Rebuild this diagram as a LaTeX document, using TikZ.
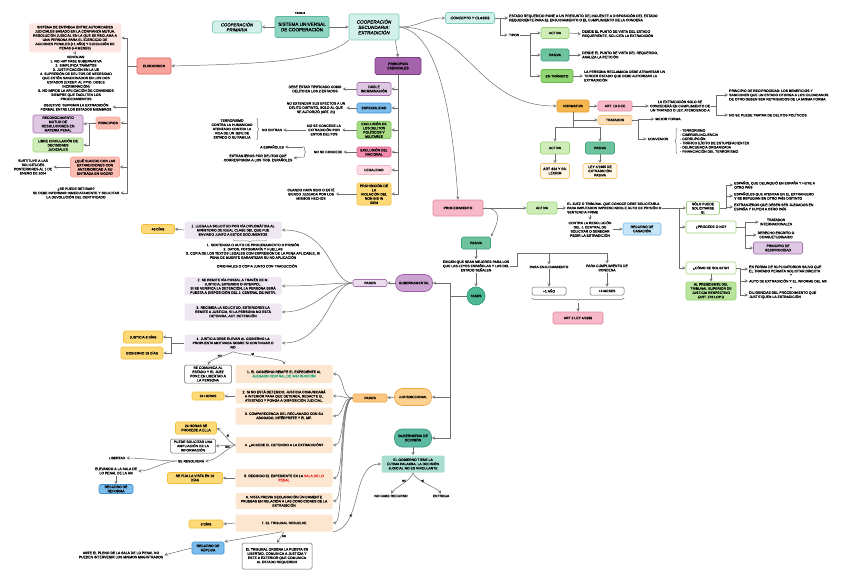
\documentclass[tikz,border=0pt]{standalone}
\usepackage{fontspec}
\setmainfont{Liberation Sans}[FakeBold=0.35]
\usepackage{tikz}
\usetikzlibrary{arrows,calc,decorations.pathreplacing}
\hyphenpenalty=10000
\definecolor{cTealF}{HTML}{D3F0EA}\definecolor{cTealD}{HTML}{7DCFBB}
\definecolor{cSistF}{HTML}{8FD4C2}\definecolor{cSistD}{HTML}{5CB8A0}
\definecolor{cSalF}{HTML}{F7A49C}\definecolor{cSalD}{HTML}{E2605B}
\definecolor{cSalLF}{HTML}{FBBCB2}\definecolor{cSalLD}{HTML}{F6A89C}
\definecolor{cPinkPale}{HTML}{FDE5E2}
\definecolor{cPurF}{HTML}{A563AC}\definecolor{cPurD}{HTML}{7B3E83}
\definecolor{cPurLF}{HTML}{DDC7E2}\definecolor{cPurLD}{HTML}{A870B0}
\definecolor{cBlueF}{HTML}{7DBDEB}\definecolor{cBlueD}{HTML}{4090D2}
\definecolor{cBlueLF}{HTML}{C5E6F8}\definecolor{cBlueLD}{HTML}{75B9E6}
\definecolor{cGreenF}{HTML}{A8DC86}\definecolor{cGreenD}{HTML}{7CC35A}
\definecolor{cGreenLF}{HTML}{CFEDB8}\definecolor{cGreenLD}{HTML}{99D474}
\definecolor{cGreenMF}{HTML}{92D574}\definecolor{cGreenMD}{HTML}{68B94A}
\definecolor{cSeaF}{HTML}{6DC39E}\definecolor{cSeaD}{HTML}{3FA07A}
\definecolor{cPinkF}{HTML}{F38CAC}\definecolor{cPinkD}{HTML}{D95A80}
\definecolor{cPinkMF}{HTML}{F7B8C9}\definecolor{cPinkMD}{HTML}{E6889F}
\definecolor{cPinkLF}{HTML}{FDDCE4}\definecolor{cPinkLD}{HTML}{F6B5C6}
\definecolor{cYelF}{HTML}{FDD978}\definecolor{cYelD}{HTML}{F3BE3B}
\definecolor{cOraF}{HTML}{F5B851}\definecolor{cOraD}{HTML}{E69B2C}
\definecolor{cOraLF}{HTML}{FDE0BA}\definecolor{cOraLD}{HTML}{F6C37B}
\definecolor{cCreamF}{HTML}{FFF6E6}
\definecolor{cPeach}{HTML}{FDE6D0}\definecolor{cLilac}{HTML}{EEE6F0}
\definecolor{cGubF}{HTML}{CBA4D1}\definecolor{cGubD}{HTML}{9C5CA4}
\definecolor{cPasGF}{HTML}{EADCEE}
\definecolor{cJurF}{HTML}{FDD190}\definecolor{cJurD}{HTML}{F2A64A}
\definecolor{cPasJF}{HTML}{FCC780}\definecolor{cPasJD}{HTML}{F0A545}
\definecolor{cGdecF}{HTML}{5DBAA2}\definecolor{cGdecD}{HTML}{3A9881}
\definecolor{cUltF}{HTML}{A8DDD0}
\definecolor{cFasF}{HTML}{4DBA94}\definecolor{cFasD}{HTML}{2F9A74}
\definecolor{cPresF}{HTML}{B8E49D}
\definecolor{cJgreen}{HTML}{1AA37A}\definecolor{cJred}{HTML}{E8302A}
\definecolor{cLine}{HTML}{6E6E6E}
\tikzset{every node/.style={font=\fontsize{3.4}{4.2}\selectfont, align=center, inner sep=1pt}}
\tikzset{bx/.style={rectangle, rounded corners=1.5pt, line width=0.6pt}}
\tikzset{pill/.style={rectangle, rounded corners=8pt, line width=0.7pt, minimum width=37pt, minimum height=17pt}}
\tikzset{sz/.style 2 args={minimum width=#1pt, minimum height=#2pt}}
\tikzset{ln/.style={draw=cLine, line width=0.5pt}}
\tikzset{arr/.style={ln, ->, >=stealth}}
\tikzset{brc/.style={ln, decorate, decoration={brace, amplitude=2pt}}}
\tikzset{lbl/.style={font=\fontsize{2.8}{3}\selectfont, fill=white, inner sep=0.3pt}}
\tikzset{hd/.style={font=\fontsize{4.6}{5.4}\selectfont}}
\tikzset{tealbox/.style={bx, fill=cTealF, draw=cTealD}, sistbox/.style={bx, fill=cSistF, draw=cSistD}}
\tikzset{salmonbox/.style={bx, fill=cSalF, draw=cSalD}, salmonlight/.style={bx, fill=cSalLF, draw=cSalLD}}
\tikzset{purplebox/.style={bx, fill=cPurF, draw=cPurD}, purplelight/.style={bx, fill=cPurLF, draw=cPurLD}}
\tikzset{bluebox/.style={bx, fill=cBlueF, draw=cBlueD}, bluelight/.style={bx, fill=cBlueLF, draw=cBlueLD}}
\tikzset{greenbox/.style={bx, fill=cGreenF, draw=cGreenD}, greenlight/.style={bx, fill=cGreenLF, draw=cGreenLD}}
\tikzset{greenmid/.style={bx, fill=cGreenMF, draw=cGreenMD}, seabox/.style={bx, fill=cSeaF, draw=cSeaD}}
\tikzset{pinkbox/.style={bx, fill=cPinkF, draw=cPinkD}, pinkmid/.style={bx, fill=cPinkMF, draw=cPinkMD}}
\tikzset{pinklight/.style={bx, fill=cPinkLF, draw=cPinkLD}, yellowbox/.style={bx, fill=cYelF, draw=cYelD}}
\tikzset{orangebox/.style={bx, fill=cOraF, draw=cOraD}, orangelight/.style={bx, fill=cOraLF, draw=cOraLD}}
\tikzset{creambox/.style={bx, fill=cCreamF, draw=cOraLD}, whitebox/.style={bx, fill=white, draw=black!60, line width=0.5pt}}
\tikzset{greenline/.style={bx, fill=white, draw=cGreenLD}}
\tikzset{gstep/.style={bx, fill=cLilac, sz={97}{17}}, jstep/.style={bx, fill=cPeach, sz={97}{17}}}

\begin{document}
\begin{tikzpicture}[x=1pt, y=-1pt]
\path[use as bounding box, fill=white] (0,0) rectangle (848,578);

% cabecera
\node (tema) at (300,13)[font=\fontsize{2.8}{3}\selectfont]{TEMA 8};
\node (primaria) at (237,27)[tealbox, sz={49}{12}, font=\fontsize{4.3}{5}\selectfont\itshape]{COOPERACIÓN\\PRIMARIA};
\node (sistema) at (302,27)[sistbox, sz={54}{21}, hd]{SISTEMA UNIVERSAL\\DE COOPERACIÓN};
\node (secundaria) at (374,27)[tealbox, sz={50}{26}, font=\fontsize{4.6}{5.4}\selectfont\itshape]{COOPERACIÓN\\SECUNDARIA:\\EXTRADICIÓN};
\draw[arr] (sistema) -- (primaria);
\draw[arr] (sistema) -- (secundaria);

% euroorden
\node (euro) at (154,66)[salmonbox, sz={34}{16}]{EUROORDEN};
\node (eurodef) at (75,38)[bx, fill=cPinkPale, sz={92}{29}]{SISTEMA DE ENTREGA ENTRE AUTORIDADES\\JUDICIALES BASADO EN LA CONFIANZA MUTUA.\\RESOLUCIÓN JUDICIAL EN LA QUE SE RECLAMA A\\UNA PERSONA PARA EL EJERCICIO DE\\ACCIONES PENALES (+1 AÑO) Y EJECUCIÓN DE\\PENAS (+4 MESES)};
\node (ventajas) at (76,78){VENTAJAS:\\1. NO HAY FASE GUBERNATIVA\\2. SIMPLIFICA TRÁMITES\\3. JUSTIFICACIÓN EN LA UE\\4. SUPRESIÓN DE DELITOS DE NECESIDAD\\QUE ESTÉN SANCIONADOS EN LOS DOS\\ESTADOS (EXCEP. AL PPIO. DOBLE\\INCRIMINACIÓN)\\5. NO IMPIDE LA APLICACIÓN DE CONVENIOS\\SIEMPRE QUE FACILITEN LOS\\PROCEDIMIENTOS};
\node (objetivo) at (76,107){OBJETIVO: SUPRIMIR LA EXTRADICIÓN\\FORMAL ENTRE LOS ESTADOS MIEMBROS};
\node (principios) at (108,123)[salmonlight, sz={24}{12}]{PRINCIPIOS};
\node (reconoc) at (58,124)[purplelight, sz={50}{18}]{RECONOCIMIENTO\\MUTUO DE\\RESOLUCIONES EN\\MATERIA PENAL};
\node (libre) at (58,145)[greenlight, sz={50}{14}]{LIBRE CIRCULACIÓN DE\\DECISIONES\\JUDICIALES};
\node (sucede) at (95,167)[salmonlight, sz={49}{20}]{¿QUÉ SUCEDE CON LAS\\EXTRADICIONES CON\\ANTERIORIDAD A SU\\ENTRADA EN VIGOR?};
\node (sustituye) at (33,167){SUSTITUYE A LAS\\SOLICITUDES\\POSTERIORES AL 1 DE\\ENERO DE 2004};
\node (retirar) at (76,193){¿SE PUEDE RETIRAR?\\SE DEBE INFORMAR INMEDIATAMENTE Y SOLICITAR\\LA DEVOLUCIÓN DEL CERTIFICADO};
\draw[arr] (secundaria.south west) .. controls +(-25,22) and +(80,-2) .. (euro.east);
\draw[arr] (euro.west) -- ++(-9,0) |- (eurodef.east);
\draw[arr] (euro.west) -- ++(-9,0) |- (objetivo.east);
\draw[arr] (euro.west) -- ++(-9,0) |- (principios.east);
\draw[arr] (euro.west) -- ++(-9,0) |- (sucede.east);
\draw[arr] (euro.west) -- ++(-9,0) |- (retirar.east);
\draw[arr] (eurodef.south) -- (ventajas.north);
\draw[arr] (principios.west) -- (reconoc.east);
\draw[arr] (principios.west) -- ++(-6,0) |- (libre.east);
\draw[arr] (sucede.west) -- (sustituye.east);

% principios esenciales
\node (pesen) at (398,66)[purplebox, sz={46}{17}]{PRINCIPIOS\\ESENCIALES};
\node (doble) at (374,89)[purplelight, sz={34}{13}]{DOBLE\\INCRIMINACIÓN};
\node (especial) at (374,108)[bluebox, sz={34}{10}]{ESPECIALIDAD};
\node (exclpol) at (374,130)[greenbox, sz={34}{17}]{EXCLUSIÓN DE\\LOS DELITOS\\POLÍTICOS Y\\MILITARES};
\node (exclnac) at (374,152)[pinkbox, sz={34}{10}]{EXCLUSIÓN DEL\\NACIONAL};
\node (legal) at (374,170)[pinklight, sz={34}{9}]{LEGALIDAD};
\node (nonbis) at (374,194)[yellowbox, sz={34}{22}]{PROHIBICIÓN DE\\LA\\VIOLACIÓN DEL\\NON BIS IN\\IDEM};
\node (tdoble) at (315,89){DEBE ESTAR TIPIFICADO COMO\\DELITO EN LOS 2 ESTADOS};
\node (tespec) at (316,108){NO EXTENDER SUS EFECTOS A UN\\DELITO DISTINTO, SOLO AL QUE\\SE AUTORIZÓ (ART. 21)};
\node (tnoconc) at (324,130){NO SE CONCEDE LA\\EXTRADICIÓN POR\\ESTOS DELITOS};
\node (noentran) at (272,130){NO ENTRAN};
\node (terror) at (232,129){TERRORISMO\\CONTRA LA HUMANIDAD\\ATENTADO CONTRA LA\\VIDA DE UN JEFE DE\\ESTADO O SU FAMILIA};
\node (noconcede) at (328,152){NO SE CONCEDE};
\node (aesp) at (272,147){A ESPAÑOLES};
\node (extranj) at (258,158){EXTRANJEROS POR DELITOS QUE\\CORRESPONDA A LOS TRIB. ESPAÑOLES};
\node (tcuando) at (311,194){CUANDO HAYA SIDO O ESTÉ\\SIENDO JUZGADA POR LOS\\MISMOS HECHOS};
\draw[arr] ([xshift=-4pt]secundaria.south east) -- (pesen.north);
\draw[arr] (pesen.south) |- (doble.east);
\draw[arr] (pesen.south) |- (especial.east);
\draw[arr] (pesen.south) |- (exclpol.east);
\draw[arr] (pesen.south) |- (exclnac.east);
\draw[arr] (pesen.south) |- (legal.east);
\draw[arr] (pesen.south) |- (nonbis.east);
\draw[arr] (doble.west) -- (tdoble.east);
\draw[arr] (especial.west) -- (tespec.east);
\draw[arr] (exclpol.west) -- (tnoconc.east);
\draw[arr] (tnoconc.west) -- (noentran.east);
\draw[brc] ([xshift=3pt]terror.north east) -- ([xshift=3pt]terror.south east);
\draw[arr] (exclnac.west) -- (noconcede.east);
\draw[brc] ($(noconcede.west)+(-9,-6)$) -- ($(noconcede.west)+(-9,6)$);
\draw[arr] ($(noconcede.west)+(-10,-5)$) -- (aesp.east);
\draw[arr] ($(noconcede.west)+(-10,5)$) -- (extranj.east);
\draw[arr] (nonbis.west) -- (tcuando.east);

% concepto y clases
\node (concepto) at (470,18)[tealbox, sz={49}{11}, font=\fontsize{3.6}{4.2}\selectfont\itshape]{CONCEPTO Y CLASES};
\node (tconcepto) at (508,18)[anchor=west, align=left]{ESTADO REQUERIDO PONE A UN PRESUNTO DELINCUENTE A DISPOSICIÓN DEL ESTADO\\REQUERIENTE PARA EL ENJUICIAMIENTO O EL CUMPLIMIENTO DE LA CONDENA};
\node (tipos) at (514,35){TIPOS};
\node (activa1) at (555,33)[greenlight, sz={28}{11}]{ACTIVA};
\node (pasiva1) at (555,55)[seabox, sz={28}{12}]{PASIVA};
\node (transito) at (557,76)[greenmid, sz={32}{13}]{EN TRÁNSITO};
\node (tact1) at (581,34)[anchor=west, align=left]{DESDE EL PUNTO DE VISTA DEL ESTADO\\REQUERIENTE, SOLICITA LA EXTRADICIÓN};
\node (tpas1) at (581,55)[anchor=west, align=left]{DESDE EL PUNTO DE VISTA DEL REQUERIDO,\\ANALIZA LA PETICIÓN};
\node (ttrans) at (583,76)[anchor=west, align=left]{LA PERSONA RECLAMADA DEBE ATRAVESAR UN\\TERCER ESTADO QUE DEBE AUTORIZAR LA\\EXTRADICIÓN};
\draw[arr] (secundaria.east) .. controls +(20,0) and +(-20,0) .. (concepto.west);
\draw[arr] (concepto.east) -- (tconcepto.west);
\draw[arr] (concepto.east) -- ++(5,0) |- (tipos.west);
\draw[arr] (tipos.east) -- ++(10,0) |- (activa1.west);
\draw[arr] (tipos.east) -- ++(10,0) |- (pasiva1.west);
\draw[arr] (tipos.east) -- ++(10,0) |- (transito.west);
\draw[arr] (activa1.east) -- (tact1.west);
\draw[arr] (pasiva1.east) -- (tpas1.west);
\draw[arr] (transito.east) -- (ttrans.west);

% normativa
\node (normativa) at (573,106)[orangebox, sz={32}{12}]{NORMATIVA};
\node (art133) at (615,106)[pinkmid, sz={34}{10}]{ART. 13.3 CE};
\node (textension) at (680,106){LA EXTRADICIÓN SOLO SE\\CONCEDERÁ EN CUMPLIMIENTO DE\\UN TRATADO O LEY, ATENDIENDO A};
\node (tpprecip) at (728,95)[anchor=west, align=left]{PRINCIPIO DE RECIPROCIDAD: LOS BENEFICIOS Y\\SANCIONES QUE UN ESTADO OTORGA A LOS CIUDADANOS\\DE OTRO DEBEN SER RETRIBUIDOS DE LA MISMA FORMA};
\node (tnopol) at (728,115)[anchor=west, align=left]{NO SE PUEDE TRATAR DE DELITOS POLÍTICOS};
\node (tratados) at (615,120)[orangelight, sz={34}{9}]{TRATADOS};
\node (mejor) at (668,119){MEJOR FORMA};
\node (convenios) at (658,139){CONVENIOS};
\node (lista) at (679,141)[anchor=west, align=left]{- TERRORISMO\\- CIBERDELINCUENCIA\\- CORRUPCIÓN\\- TRÁFICO ILÍCITO DE ESTUPEFACIENTES\\- DELINCUENCIA ORGANIZADA\\- FINANCIACIÓN DEL TERRORISMO};
\node (activa2) at (555,148)[greenlight, sz={29}{12}]{ACTIVA};
\node (pasiva2) at (600,148)[seabox, sz={29}{12}]{PASIVA};
\node (art824) at (555,171)[creambox, sz={29}{15}]{ART. 824 Y SS.\\LECRIM};
\node (ley4) at (600,171)[creambox, sz={34}{15}]{LEY 4/1985 DE\\EXTRADICIÓN\\PASIVA};
\draw[arr] (secundaria.east) .. controls +(70,0) and +(-80,0) .. (normativa.west);
\draw[arr] (normativa.east) -- (art133.west);
\draw[arr] (art133.east) -- (textension.west);
\draw[arr] (textension.east) -- ++(5,0) |- (tpprecip.west);
\draw[arr] (textension.east) -- ++(5,0) |- (tnopol.west);
\draw[arr] (normativa.south) |- (tratados.west);
\draw[arr] (tratados.east) -- ++(6,0) |- (mejor.west);
\draw[arr] (tratados.east) -- ++(6,0) |- (convenios.west);
\draw[brc] ([xshift=-2pt]lista.south west) -- ([xshift=-2pt]lista.north west);
\draw[arr] (normativa.south) -- ++(0,15) -| (activa2.north);
\draw[arr] (normativa.south) -- ++(0,15) -| (pasiva2.north);
\draw[arr] (activa2) -- (art824);
\draw[arr] (pasiva2) -- (ley4);

% procedimiento
\node (proced) at (458,208)[pinkmid, sz={50}{16}]{PROCEDIMIENTO};
\node (activa3) at (542,208)[greenlight, sz={30}{12}]{ACTIVA};
\node (tjuez) at (566,208)[anchor=west, align=left]{EL JUEZ O TRIBUNAL QUE CONOCE DEBE SOLICITARLA\\PARA IMPUTADOS IMPRESCINDIBLE AUTO DE PRISIÓN O\\SENTENCIA FIRME};
\node (tcontra) at (590,229){CONTRA LA RESOLUCIÓN\\DEL J. CENTRAL DE\\SOLICITAR O DENEGAR\\PEDIR LA EXTRADICIÓN};
\node (casacion) at (642,229)[bluelight, sz={38}{12}]{RECURSO DE\\CASACIÓN};
\node (solo) at (703,208)[greenline, sz={33}{12}]{SÓLO PUEDE\\SOLICITARSE\\SI:};
\node (procede) at (711,227)[greenline, sz={50}{12}]{¿PROCEDE O NO?};
\node (como) at (711,268)[greenline, sz={50}{12}]{¿CÓMO SE SOLICITA?};
\node (tsolo1) at (733,185)[anchor=west, align=left]{ESPAÑOL QUE DELINQUIÓ EN ESPAÑA Y HUYE A\\OTRO PAÍS};
\node (tsolo2) at (733,196)[anchor=west, align=left]{ESPAÑOLES QUE ATENTAN EN EL EXTRANJERO\\Y SE REFUGIAN EN OTRO PAÍS DISTINTO};
\node (tsolo3) at (733,207)[anchor=west, align=left]{EXTRANJEROS QUE DEBEN SER JUZGADOS EN\\ESPAÑA Y HUYEN A OTRO PAÍS};
\node (tratint) at (776,222){TRATADOS\\INTERNACIONALES};
\node (derecho) at (776,235){DERECHO ESCRITO O\\CONSUETUDINARIO};
\node (precip) at (778,248)[purplelight, sz={49}{12}]{PRINCIPIO DE\\RECIPROCIDAD};
\node (tcomo1) at (748,269)[anchor=west, align=left]{EN FORMA DE SUPLICATORIOS SALVO QUE\\EL TRATADO PERMITA SOLICITAR DIRECTA};
\node (tmas1) at (791,275){+};
\node (tcomo2) at (748,281)[anchor=west, align=left]{AUTO DE EXTRADICIÓN Y EL INFORME DEL MF.};
\node (tmas2) at (791,288){+};
\node (tcomo3) at (748,295)[anchor=west, align=left]{DILIGENCIAS DEL PROCEDIMIENTO QUE\\JUSTIFIQUEN LA EXTRADICIÓN};
\node (presid) at (711,291)[bx, fill=cPresF, draw=cGreenLD, sz={50}{18}]{AL PRESIDENTE DEL\\TRIBUNAL SUPERIOR DE\\JUSTICIA RESPECTIVO\\(ART. 276 LOPJ)};
\draw[arr] (secundaria.east) .. controls +(38,5) and +(-6,-90) .. (proced.north);
\draw[arr] (proced.east) -- (activa3.west);
\draw[arr] (activa3.east) -- (tjuez.west);
\draw[arr] (tcontra.north |- tjuez.south) -- (tcontra.north);
\draw[arr] (tcontra.east) -- (casacion.west);
\draw[arr] (tjuez.east) -- (solo.west);
\draw[arr] ([xshift=-7pt]solo.west) |- (procede.west);
\draw[arr] ([xshift=-7pt]solo.west) |- (como.west);
\draw[arr] (solo.east) -- ++(6,0) |- (tsolo1.west);
\draw[arr] (solo.east) -- ++(6,0) |- (tsolo2.west);
\draw[arr] (solo.east) -- ++(6,0) |- (tsolo3.west);
\draw[arr] (procede.east) -- ++(9,0) |- (tratint.west);
\draw[arr] (procede.east) -- ++(9,0) |- (derecho.west);
\draw[arr] (procede.east) -- ++(9,0) |- (precip.west);
\draw[arr] (como.east) -- ++(4,0) |- (tcomo1.west);
\draw[arr] (como.east) -- ++(4,0) |- (tcomo2.west);
\draw[arr] (como.east) -- ++(4,0) |- (tcomo3.west);
\draw[arr] (como) -- (presid);

% pasiva y fases
\node (pasiva3) at (476,243)[seabox, sz={29}{12}]{PASIVA};
\node (texigen) at (476,266){EXIGEN QUE SEAN MEJORES PARA LOS\\QUE LAS LEYES ESPAÑOLAS Y LAS DEL\\ESTADO SEÑALEN};
\node (fases) at (476,296)[circle, fill=cFasF, draw=cFasD, line width=0.7pt, minimum size=18pt]{FASES};
\node (tenjuic) at (549,267){PARA ENJUICIAMIENTO};
\node (tcumpl) at (607,268){PARA CUMPLIMIENTO DE\\CONDENA};
\node (unano) at (549,291)[whitebox, sz={34}{8}]{+1 AÑO};
\node (cuatrom) at (607,291)[whitebox, sz={34}{8}]{+4 MESES};
\node (art2) at (578,318)[pinkmid, sz={50}{12}]{ART 2 LEY 4/1985};
\draw[arr] (proced.east) .. controls +(22,0) and +(6,-12) .. (pasiva3.north east);
\draw[arr] (pasiva3) -- (texigen);
\draw[arr] (texigen) -- (fases);
\draw[arr] (texigen.east) -- ++(7,0) |- ([yshift=10pt]tcumpl.north) -- (tcumpl.north);
\draw[arr] ([yshift=10pt]tcumpl.north) -| (tenjuic.north);
\draw[arr] (tenjuic) -- (unano);
\draw[arr] (tcumpl) -- (cuatrom);
\draw[brc] ([yshift=-3pt]cuatrom.south east) -- ([yshift=-3pt]unano.south west);
\draw[arr] ($(unano.south)!0.5!(cuatrom.south)+(0,8)$) -- (art2.north);

% fase gubernamental
\node (gubern) at (414,283)[pill, fill=cGubF, draw=cGubD]{GUBERNAMENTAL};
\node (pasosg) at (370,283)[bx, fill=cPasGF, draw=cPurLD, sz={34}{7}]{PASOS};
\node (g1) at (233,230)[gstep]{1. LLEGA LA SOLICITUD POR VÍA DIPLOMÁTICA AL\\MINISTERIO DE IGUAL CLASE DEL QUE FUE\\ENVIADO JUNTO A ESTOS DOCUMENTOS};
\node (g1docs) at (253,251){1. SENTENCIA O AUTO DE PROCESAMIENTO O PRISIÓN\\2. DATOS, FOTOGRAFÍA Y HUELLAS\\3. COPIA DE LOS TEXTOS LEGALES CON EXPRESIÓN DE LA PENA APLICABLE, SI\\PENA DE MUERTE GARANTIZAR SU NO APLICACIÓN};
\node (g1orig) at (257,266){ORIGINALES O COPIA JUNTO CON TRADUCCIÓN};
\node (cuarenta) at (158,229)[yellowbox, sz={33}{9}]{40 DÍAS};
\node (g2) at (233,286)[gstep, sz={97}{18}]{2. SE REMITE VÍA POSTAL A TRAVÉS DE M.\\JUSTICIA, EXTERIOR O INTERPOL.\\SI SE VERIFICA LA DETENCIÓN, LA PERSONA SERÁ\\PUESTA A DISPOSICIÓN DEL J. CENTRAL DE INSTR.};
\node (g3) at (233,312)[gstep]{3. RECIBIDA LA SOLICITUD, EXTERIORES LA\\REMITE A JUSTICIA, SI LA PERSONA NO ESTÁ\\DETENIDA, ACT. DETENCIÓN};
\node (g4) at (233,343)[gstep]{4. JUSTICIA DEBE ELEVAR AL GOBIERNO LA\\PROPUESTA MOTIVADA SOBRE SI CONTINUAR O\\NO};
\node (justicia8) at (143,337)[yellowbox, sz={39}{12}]{JUSTICIA 8 DÍAS};
\node (gobierno15) at (142,353)[yellowbox, sz={42}{12}]{GOBIERNO 15 DÍAS};
\node (comunica) at (208,374)[whitebox, sz={47}{18}]{SE COMUNICA AL\\ESTADO Y EL JUEZ\\PONE EN LIBERTAD A\\LA PERSONA};
\draw[arr] (fases.west) -- ++(-16,0) |- (gubern.east);
\draw[arr] (gubern) -- (pasosg);
\draw[arr] (pasosg.west) .. controls +(-22,0) and +(50,0) .. (g1.east);
\draw[arr] (pasosg.west) .. controls +(-22,0) and +(35,0) .. (g2.east);
\draw[arr] (pasosg.west) .. controls +(-22,0) and +(35,0) .. (g3.east);
\draw[arr] (pasosg.west) .. controls +(-22,0) and +(45,0) .. (g4.east);
\draw[brc] ([xshift=34pt, yshift=-1pt]g1.south) -- ([yshift=-1pt]g1.south);
\draw[arr] (g1.west) -- (cuarenta.east);
\draw[arr] (g4.west) -- ++(-13,0) |- (justicia8.east);
\draw[arr] (g4.west) -- ++(-13,0) |- (gobierno15.east);
\draw[arr] (g4.south) .. controls +(-8,4) and +(2,-5) .. node[lbl, pos=0.45, above]{NO} (comunica.north);

% fase jurisdiccional
\node (jurisd) at (413,397)[pill, fill=cJurF, draw=cJurD]{JURISDICCIONAL};
\node (pasosj) at (370,398)[bx, fill=cPasJF, draw=cPasJD, sz={34}{8}]{PASOS};
\node (j1) at (284,374)[jstep, sz={97}{18}]{1. EL GOBIERNO REMITE EL EXPEDIENTE AL\\\textcolor{cJgreen}{JUZGADO CENTRAL DE INSTRUCCIÓN}};
\node (j2) at (284,396)[jstep, sz={97}{15}]{2. SI NO ESTÁ DETENIDO, JUSTICIA COMUNICARÁ\\A INTERIOR PARA QUE DETENGA, REDACTE EL\\ATESTADO Y PONGA A DISPOSICIÓN JUDICIAL.};
\node (j3) at (284,416)[jstep]{3. COMPARECENCIA DEL RECLAMADO CON SU\\ABOGADO, INTÉRPRETE Y EL MF.};
\node (j4) at (284,445)[jstep, sz={97}{16}]{4. ¿ACCEDE EL DETENIDO A LA EXTRADICIÓN?};
\node (j5) at (284,478)[jstep, sz={97}{18}]{5. RECIBIDO EL EXPEDIENTE EN LA \textcolor{cJred}{SALA DE LO}\\\textcolor{cJred}{PENAL}};
\node (j6) at (284,501)[jstep, sz={97}{16}]{6. VISTA PREVIA DECLARACIÓN ÚNICAMENTE\\PRUEBAS EN RELACIÓN A LAS CONDICIONES DE LA\\EXTRADICIÓN};
\node (j7) at (284,523)[jstep]{7. EL TRIBUNAL RESUELVE};
\node (h24) at (208,396)[yellowbox, sz={32}{8}]{24 HORAS};
\node (h24b) at (196,428)[yellowbox, sz={41}{12}]{24 HORAS SE\\PROCEDE A ELLA};
\node (ampl) at (193,446)[whitebox, sz={45}{14}]{PUEDE SOLICITAR UNA\\AMPLIACIÓN DE LA\\INFORMACIÓN};
\node (resolv) at (191,461){SE RESOLVERÁ};
\node (libertad) at (117,458){LIBERTAD};
\node (elevando) at (116,471){ELEVANDO A LA SALA DE\\LO PENAL DE LA AN};
\node (reforma) at (116,489)[bluebox, sz={34}{9}]{RECURSO DE\\REFORMA};
\node (vista10) at (195,478)[yellowbox, sz={55}{11}]{SE FIJA LA VISTA EN 10\\DÍAS};
\node (tres) at (206,524)[yellowbox, sz={34}{8}]{3 DÍAS};
\node (suplica) at (208,548)[bluebox, sz={32}{12}]{RECURSO DE\\SÚPLICA};
\node (tante) at (121,555){ANTE EL PLENO DE LA SALA DE LO PENAL NO\\PUEDEN INTERVENIR LOS MISMOS MAGISTRADOS};
\node (rodea) at (277,556)[whitebox, sz={70}{26}]{EL TRIBUNAL ORDENA LA PUESTA EN\\LIBERTAD, COMUNICA A JUSTICIA Y\\ESTE A EXTERIOR QUE COMUNICA\\AL ESTADO REQUERIDO};
\draw[arr] (g4.south) .. controls +(12,4) and +(0,-6) .. node[lbl, pos=0.35, above]{SÍ} (j1.north);
\draw[arr] (fases.west) -- ++(-16,0) |- (jurisd.east);
\draw[arr] (jurisd) -- (pasosj);
\draw[arr] (pasosj.west) .. controls +(-12,0) and +(12,0) .. (j1.east);
\draw[arr] (pasosj.west) .. controls +(-12,0) and +(12,0) .. (j2.east);
\draw[arr] (pasosj.west) .. controls +(-12,0) and +(12,0) .. (j3.east);
\draw[arr] (pasosj.west) .. controls +(-12,0) and +(12,0) .. (j4.east);
\draw[arr] (pasosj.west) .. controls +(-14,0) and +(12,0) .. (j5.east);
\draw[arr] (pasosj.west) .. controls +(-14,0) and +(12,0) .. (j6.east);
\draw[arr] (pasosj.west) .. controls +(-14,0) and +(12,0) .. (j7.east);
\draw[arr] (j2.west) -- (h24.east);
\draw[arr] (j4.west) .. controls +(-6,-2) and +(6,4) .. node[lbl, pos=0.5, above right]{SÍ} (h24b.east);
\draw[arr] (j4.west) -- node[lbl, pos=0.4, below]{NO} (ampl.east);
\draw[arr] (j4.west) .. controls +(-8,3) and +(10,0) .. (resolv.east);
\draw[arr] (resolv.west) .. controls +(-12,0) and +(12,0) .. (libertad.east);
\draw[arr] (resolv.west) .. controls +(-12,0) and +(12,0) .. (elevando.east);
\draw[arr] (elevando) -- (reforma);
\draw[arr] (j5.west) -- (vista10.east);
\draw[arr] (j7.west) -- (tres.east);
\draw[arr] ([xshift=-2pt]j7.south) -- (suplica.north east);
\draw[arr] (suplica.west) -- (tante.east);
\draw[arr] (j7.south) -- node[lbl, pos=0.4, right]{NO} (rodea.north);

% gubernativa de decision
\node (gubdec) at (413,438)[pill, fill=cGdecF, draw=cGdecD, sz={37}{18}]{GUBERNATIVA DE\\DECISIÓN};
\node (ultima) at (413,464)[bx, fill=cUltF, sz={63}{17}]{EL GOBIERNO TIENE LA\\ÚLTIMA PALABRA, LA DECISIÓN\\JUDICIAL NO ES VINCULANTE};
\node (nocabe) at (391,496){NO CABE RECURSO};
\node (entrega) at (441,496){ENTREGA};
\draw[arr] (fases.west) -- ++(-16,0) |- (gubdec.east);
\draw[arr] (gubdec) -- (ultima);
\draw[arr] (ultima.south) .. controls +(-2,8) and +(4,-6) .. node[lbl, pos=0.35, left]{NO} (nocabe.north);
\draw[arr] (ultima.south) .. controls +(2,8) and +(-4,-6) .. node[lbl, pos=0.35, right]{SÍ} (entrega.north);
\draw[arr] (j7.south east) .. controls +(30,-4) and +(-30,0) .. node[lbl, pos=0.3]{SÍ} (ultima.west);
\end{tikzpicture}
\end{document}
